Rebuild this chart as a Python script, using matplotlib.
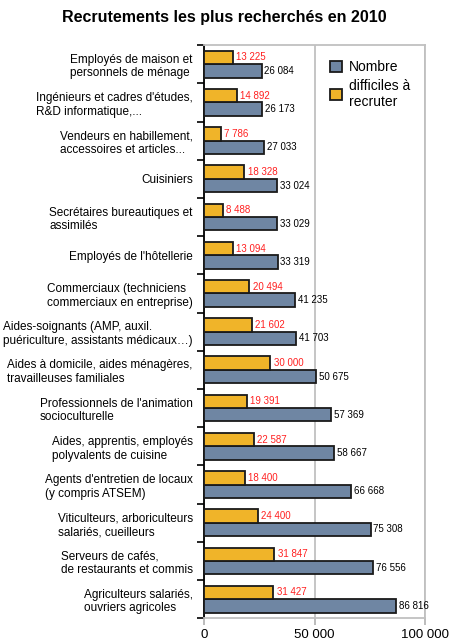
import matplotlib
import numpy as np
import matplotlib.pyplot as plt

matplotlib.use('Agg')
plt.rcParams['font.family'] = ['Liberation Sans', 'DejaVu Sans']

categories = [
    "Employés de maison et\npersonnels de ménage",
    "Ingénieurs et cadres d'études,\nR&D informatique,...",
    "Vendeurs en habillement,\naccessoires et articles...",
    "Cuisiniers",
    "Secrétaires bureautiques et\nassimilés",
    "Employés de l'hôtellerie",
    "Commerciaux (techniciens\ncommerciaux en entreprise)",
    "Aides-soignants (AMP, auxil.\npuériculture, assistants médicaux…)",
    "Aides à domicile, aides ménagères,\ntravailleuses familiales",
    "Professionnels de l'animation\nsocioculturelle",
    "Aides, apprentis, employés\npolyvalents de cuisine",
    "Agents d'entretien de locaux\n(y compris ATSEM)",
    "Viticulteurs, arboriculteurs\nsalariés, cueilleurs",
    "Serveurs de cafés,\nde restaurants et commis",
    "Agriculteurs salariés,\nouvriers agricoles",
]
difficiles = [13225, 14892, 7786, 18328, 8488, 13094, 20494, 21602,
              30000, 19391, 22587, 18400, 24400, 31847, 31427]
nombre = [26084, 26173, 27033, 33024, 33029, 33319, 41235, 41703,
          50675, 57369, 58667, 66668, 75308, 76556, 86816]


def fr(v):
    return f"{v:,}".replace(",", " ")


fig = plt.figure(figsize=(4.49, 6.44), dpi=100)
ax = fig.add_axes([0.454, 0.040, 0.493, 0.890])

y = np.arange(len(categories))
h = 0.35
col_b = '#6F86A3'
col_o = '#F0B429'
bars_n = ax.barh(y + h / 2, nombre, height=h, color=col_b, edgecolor='#1a1a1a',
                 linewidth=1.3, label='Nombre', zorder=3)
bars_d = ax.barh(y - h / 2, difficiles, height=h, color=col_o, edgecolor='#1a1a1a',
                 linewidth=1.3, label='difficiles à\nrecruter', zorder=3)

for b, v in zip(bars_d, difficiles):
    ax.text(v + 1500, b.get_y() + b.get_height() / 2, fr(v), color='#FF2020',
            fontsize=7, va='center', ha='left')
for b, v in zip(bars_n, nombre):
    ax.text(v + 1300, b.get_y() + b.get_height() / 2, fr(v), color='black',
            fontsize=7, va='center', ha='left')

ax.set_xlim(0, 100000)
ax.set_ylim(len(categories) - 0.5, -0.5)
ax.set_xticks([0, 50000, 100000])
ax.set_xticklabels(['0', '50 000', '100 000'], fontsize=9.5)
ax.set_yticks(y)
ax.set_yticklabels(categories, fontsize=8.5, multialignment='left')
ax.set_yticks(np.arange(len(categories) + 1) - 0.5, minor=True)
ax.tick_params(axis='y', which='major', length=0, pad=8)
ax.tick_params(axis='y', which='minor', length=5, width=1.2, color='black')
ax.tick_params(axis='x', length=5, color='#b0b0b0', width=1.2, pad=3)

ax.xaxis.grid(True, color='#c0c0c0', linewidth=1.3, zorder=0)
for s in ['top', 'right', 'bottom']:
    ax.spines[s].set_color('#c0c0c0')
    ax.spines[s].set_linewidth(1.3)
ax.spines['left'].set_color('black')
ax.spines['left'].set_linewidth(1.3)

ax.legend(loc='upper right', bbox_to_anchor=(0.99, 0.995), frameon=False,
          fontsize=10, handlelength=0.9, handleheight=0.9, handletextpad=0.5,
          labelspacing=0.3)

fig.suptitle('Recrutements les plus recherchés en 2010', fontsize=11.5,
             fontweight='bold', x=0.5, y=0.985)

fig.savefig('out.png', dpi=100)
